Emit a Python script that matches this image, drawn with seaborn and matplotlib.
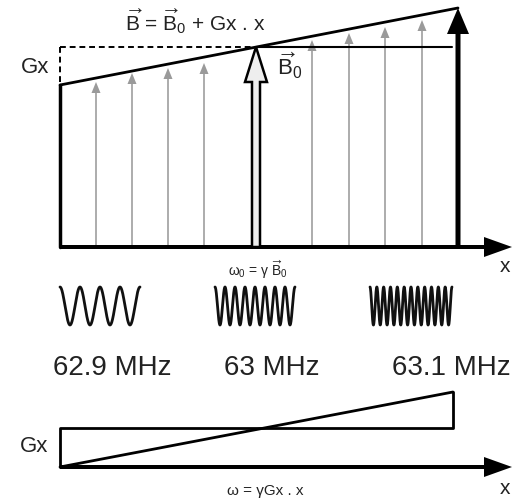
import numpy as np
import matplotlib.pyplot as plt
import seaborn as sns
from matplotlib.patches import Polygon

sns.set_theme(style="white")
plt.rcParams['font.family'] = ['Liberation Sans', 'DejaVu Sans']
plt.rcParams['mathtext.fontset'] = 'custom'
plt.rcParams['mathtext.rm'] = 'Liberation Sans'
plt.rcParams['mathtext.it'] = 'Liberation Sans:italic'

# positions (pixel units, y grows downward)
base_top = 247
base_bot = 467
x_left = 60
x_right = 458
field_x = [60, 458]
field_y = [85, 8]
b0_x = 256
b0_y = 47
grey_x = [96, 132, 168, 204, 312, 349, 385, 422]
grey_tip = [82, 73, 68, 63, 40, 33, 27, 20]

# precession waves
wave_start = [60, 215, 370]
wave_end = [140, 295, 452]
wave_cycles = [4, 8, 12]
wave_mid = 306
wave_amp = 19
freq_labels = ["62.9 MHz", "63 MHz", "63.1 MHz"]
freq_x = [112, 272, 451]

# gradient panel
grad_x = [60, 453]
grad_y = [467, 392]
grad_level = 428

fig = plt.figure(figsize=(5.27, 5.01), dpi=100)
ax = fig.add_axes([0, 0, 1, 1])
ax.set_xlim(0, 527)
ax.set_ylim(501, 0)
ax.axis('off')

# ---- top panel ----
# grey field arrows
for x, tip in zip(grey_x, grey_tip):
    ax.arrow(x, base_top, 0, tip - base_top, width=1.6, head_width=9, head_length=11,
             length_includes_head=True, color='#9a9a9a', lw=0)

# dashed reference box
ax.plot([x_left, b0_x], [b0_y, b0_y], ls=(0, (3, 2)), color='black', lw=1.4)
ax.plot([x_left, x_left], [b0_y, field_y[0]], ls=(0, (3, 2)), color='black', lw=1.4)
ax.plot([b0_x, x_right - 6], [b0_y, b0_y], color='black', lw=1.5)

# field line B = B0 + Gx.x
sns.lineplot(x=field_x, y=field_y, ax=ax, color='black', lw=2, sort=False)
ax.plot([x_left, x_left], [field_y[0], base_top], color='black', lw=2.5)

# baseline axis
ax.arrow(x_left, base_top, 452, 0, width=4, head_width=20, head_length=28,
         length_includes_head=True, color='black', lw=0)

# right thick arrow
ax.arrow(x_right, base_top, 0, field_y[1] - base_top, width=5, head_width=22, head_length=26,
         length_includes_head=True, color='black', lw=0)

# hollow B0 arrow
hw, hh, hl = 4, 11, 35
pts = [(b0_x - hw, base_top), (b0_x - hw, b0_y + hl), (b0_x - hh, b0_y + hl), (b0_x, b0_y),
       (b0_x + hh, b0_y + hl), (b0_x + hw, b0_y + hl), (b0_x + hw, base_top)]
ax.add_patch(Polygon(pts, closed=True, facecolor='#eeeeee', edgecolor='black', lw=1.8, zorder=5))

ax.text(195, 22, r'$\overrightarrow{\mathrm{B}}$ = $\overrightarrow{\mathrm{B}}_{\mathrm{0}}$ + Gx . x',
        ha='center', va='center', fontsize=15, color='#222222')
ax.text(35, 67, 'Gx', ha='center', va='center', fontsize=16, color='#222222')
ax.text(290, 66, r'$\overrightarrow{\mathrm{B}}_{\mathrm{0}}$', ha='center', va='center',
        fontsize=16, color='#222222')
ax.text(505, 267, 'x', ha='center', va='center', fontsize=15, color='#222222')
ax.text(258, 270, r'ω$_{\mathrm{0}}$ = γ $\overrightarrow{\mathrm{B}}_{\mathrm{0}}$',
        ha='center', va='center', fontsize=10, color='#222222')

# waves
for x0, x1, n in zip(wave_start, wave_end, wave_cycles):
    t = np.linspace(0, 1, 600)
    sns.lineplot(x=x0 + (x1 - x0) * t, y=wave_mid - wave_amp * np.cos(2 * np.pi * n * t),
                 ax=ax, color='#111111', lw=2, sort=False)

for lab, x in zip(freq_labels, freq_x):
    ax.text(x, 368, lab, ha='center', va='center', fontsize=20, color='#222222')

# ---- bottom panel ----
ax.arrow(x_left, base_bot, 452, 0, width=4, head_width=20, head_length=28,
         length_includes_head=True, color='black', lw=0)
ax.plot([x_left, x_left, grad_x[1], grad_x[1]], [base_bot, grad_level, grad_level, grad_y[1]],
        color='black', lw=2)
sns.lineplot(x=grad_x, y=grad_y, ax=ax, color='black', lw=2, sort=False)
ax.text(34, 447, 'Gx', ha='center', va='center', fontsize=16, color='#222222')
ax.text(505, 488, 'x', ha='center', va='center', fontsize=15, color='#222222')
ax.text(265, 491, 'ω = γGx . x', ha='center', va='center', fontsize=11, color='#222222')

fig.savefig('out.png', dpi=100)
